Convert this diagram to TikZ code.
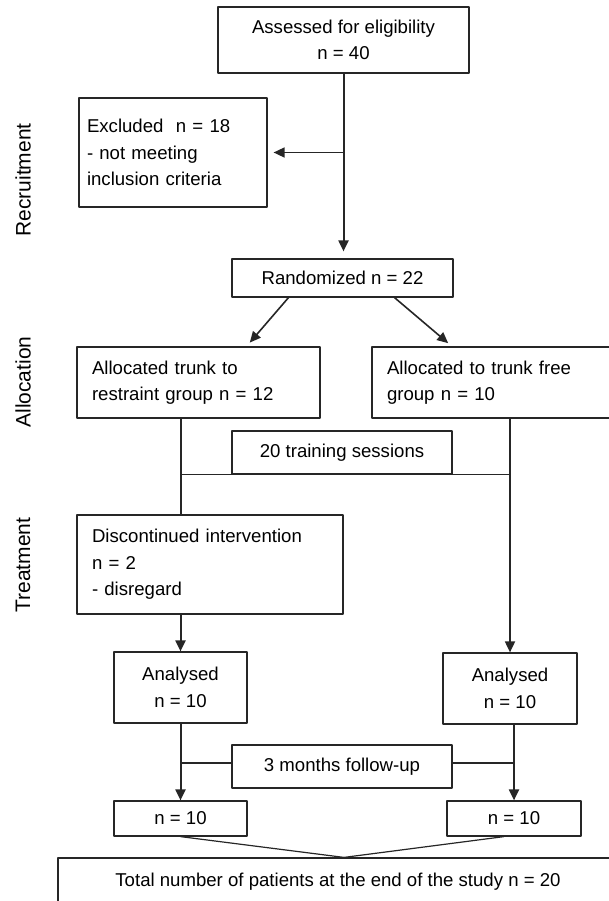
\documentclass[tikz,border=0pt]{standalone}
\usepackage{fontspec}
\setmainfont{Liberation Sans}
\usetikzlibrary{arrows.meta}
\begin{document}
\begin{tikzpicture}[x=1pt,y=-1pt,line join=round,
  font=\fontsize{18.6pt}{26.5pt}\selectfont,
  box/.style={draw=black!85,line width=1.2pt,inner sep=0pt,align=center},
  lbox/.style={box,align=left,inner xsep=15pt},
  arr/.style={draw=black!85,line width=2pt,-{Triangle[length=11pt,width=10pt]}},
  con/.style={draw=black!85,line width=1.2pt},
  side/.style={rotate=90,font=\fontsize{21pt}{24pt}\selectfont}]
  \useasboundingbox (0,0) rectangle (608,901);
  \node[side] (lRec) at (23,180) {Recruitment};
  \node[side] (lAll) at (23,382) {Allocation};
  \node[side] (lTre) at (23,565) {Treatment};
  \node[box,minimum width=251,minimum height=66] (As) at (343.5,40) {Assessed for eligibility\\n = 40};
  \node[lbox,text width=172pt,inner xsep=8pt,minimum height=109] (Ex) at (173,152.5) {Excluded\ \ n = 18\\- not meeting\\inclusion criteria};
  \node[box,minimum width=221,minimum height=38] (Ra) at (342.5,278) {Randomized n = 22};
  \node[lbox,text width=213pt,minimum height=71] (AL) at (198.5,382.5) {Allocated trunk to\\restraint group n = 12};
  \node[lbox,text width=220pt,minimum height=71] (AR) at (497,382.5) {Allocated to trunk free\\group n = 10};
  \node[box,minimum width=220,minimum height=43] (Tr) at (342,452.5) {20 training sessions};
  \node[lbox,text width=236pt,minimum height=99] (Di) at (210,564.5) {Discontinued intervention\\n = 2\\- disregard};
  \node[box,minimum width=133,minimum height=71] (AnL) at (180.5,687.5) {Analysed\\n = 10};
  \node[box,minimum width=134,minimum height=71] (AnR) at (510,688.5) {Analysed\\n = 10};
  \node[box,minimum width=220,minimum height=43] (Fu) at (342,766.5) {3 months follow-up};
  \node[box,minimum width=133,minimum height=35] (NL) at (180.5,818.5) {n = 10};
  \node[box,minimum width=134,minimum height=35] (NR) at (514,818.5) {n = 10};
  \node[box,minimum width=560,minimum height=48] (To) at (338,882) {Total number of patients at the end of the study n = 20};
  \coordinate (X) at (As.south |- Ex.east);
  \draw[arr,shorten >=7pt] (As.south) -- (As.south |- Ra.north);
  \draw[arr,line width=1.6pt,shorten >=6pt] (X) -- (Ex.east);
  \draw[arr,line width=1.6pt,shorten >=5pt] ([xshift=-54pt]Ra.south) -- ([xshift=48pt]AL.north);
  \draw[arr,line width=1.6pt,shorten >=5pt] ([xshift=52pt]Ra.south) -- ([xshift=-45pt]AR.north);
  \coordinate (L) at ([xshift=-17.5pt]AL.south);
  \coordinate (R) at (AnR.north |- AR.south);
  \draw[con,line width=1.8pt] (L) -- (L |- Di.north);
  \draw[arr,line width=1.8pt] (R) -- (AnR.north);
  \draw[con] (L |- Tr.south) -- (R |- Tr.south);
  \draw[arr] (AnL.north |- Di.south) -- (AnL.north);
  \draw[arr] (AnL.south) -- (NL.north);
  \draw[arr] (NR.north |- AnR.south) -- (NR.north);
  \coordinate (F) at ([yshift=3.5pt]Fu.west);
  \coordinate (G) at ([yshift=3.5pt]Fu.east);
  \draw[con] (AnL.south |- F) -- (F);
  \draw[con] (G) -- (NR.north |- G);
  \draw[con] (NL.south) -- ([xshift=6pt]To.north) -- ([xshift=-10pt]NR.south);
\end{tikzpicture}
\end{document}
